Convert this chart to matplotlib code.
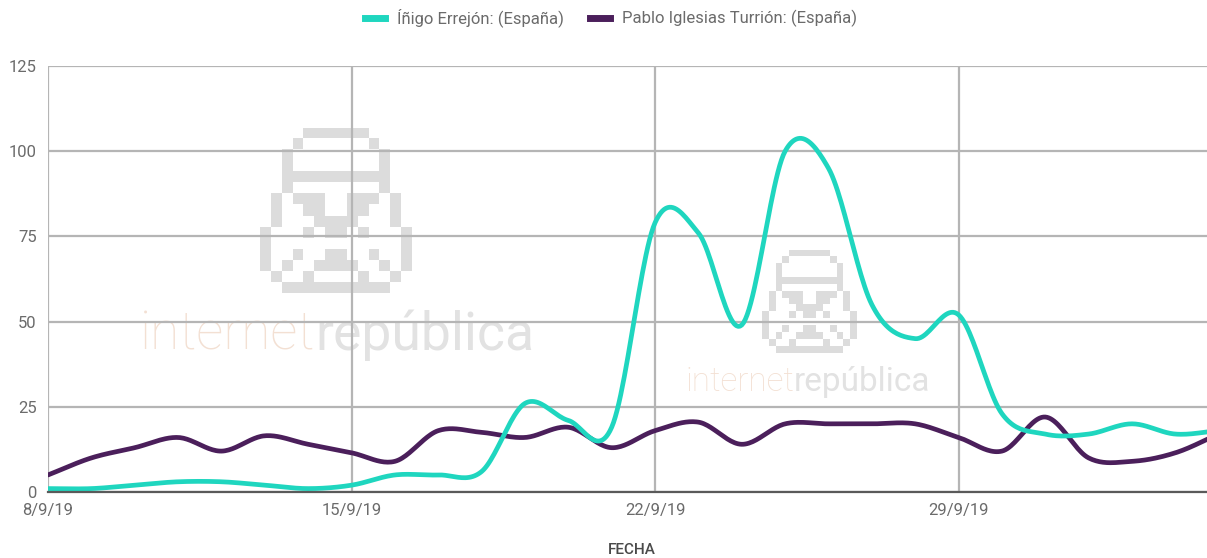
import numpy as np
from matplotlib import pyplot as plt
from matplotlib.lines import Line2D

plt.rcParams["font.family"] = ["Roboto", "DejaVu Sans"]

# datos diarios desde el 8/9/19
errejon = [1, 1, 2, 3, 3, 2, 1, 2, 5, 5, 6, 26, 21, 19, 79, 76, 49, 100,
           95, 55, 45, 52, 23, 17, 17, 20, 17, 18]
iglesias = [5, 10, 13, 16, 12, 16.5, 14, 11.5, 9, 18, 17.5, 16, 19, 13, 18,
            20.5, 14, 20, 20, 20, 20, 16, 12, 22, 10, 9, 11.5, 17]
tick_pos = [0, 7, 14, 21]
tick_labels = ["8/9/19", "15/9/19", "22/9/19", "29/9/19"]
y_ticks = [0, 25, 50, 75, 100, 125]

TEAL = "#1fd6bf"
PURPLE = "#4b1f5b"
GRID = "#b5b5b5"
TXT = "#6b6b6b"

# pixel watermark (approximate helmet)
helmet = [
    "....######....",
    "...#......#...",
    "..#........#..",
    "..#........#..",
    "..##########..",
    "..#........#..",
    ".#.###..###.#.",
    ".#..##..##..#.",
    ".#...####...#.",
    "#...#.##.#...#",
    "#............#",
    "#..#..##..#..#",
    "#.#..####..#.#",
    ".#..#....#..#.",
    "..##########..",
]


def smooth(y, n=24):
    # catmull-rom curve through the daily values
    y = np.asarray(y, dtype=float)
    m = np.zeros_like(y)
    m[1:-1] = (y[2:] - y[:-2]) / 2
    m[0] = y[1] - y[0]
    m[-1] = y[-1] - y[-2]
    xs, ys = [], []
    for i in range(len(y) - 1):
        t = np.linspace(0, 1, n, endpoint=False)
        h00 = 2 * t**3 - 3 * t**2 + 1
        h10 = t**3 - 2 * t**2 + t
        h01 = -2 * t**3 + 3 * t**2
        h11 = t**3 - t**2
        xs.append(i + t)
        ys.append(h00 * y[i] + h10 * m[i] + h01 * y[i + 1] + h11 * m[i + 1])
    xs.append([len(y) - 1])
    ys.append([y[-1]])
    return np.concatenate(xs), np.concatenate(ys)


W, H = 1207, 558
fig = plt.figure(figsize=(W / 100, H / 100), dpi=100)

# watermarks behind the plot
mask = np.array([[1.0 if c == "#" else np.nan for c in row] for row in helmet])
for (x0, y0, w, h) in [(260, 128, 152, 165), (762, 250, 95, 103)]:
    wax = fig.add_axes([x0 / W, 1 - (y0 + h) / H, w / W, h / H], zorder=0)
    wax.imshow(mask, cmap="gray", vmin=0, vmax=1.16, aspect="auto",
               interpolation="nearest")
    wax.axis("off")

for (x0, yb, fs) in [(140, 350, 38.5), (685, 391, 24)]:
    t1 = fig.text(x0 / W, 1 - yb / H, "internet", fontsize=fs,
                  fontweight="light", color="#f3e0d3", zorder=0)
    fig.canvas.draw()
    bb = t1.get_window_extent()
    fig.text(bb.x1 / W, 1 - yb / H, "república", fontsize=fs,
             fontweight="normal", color="#e2e2e2", zorder=0)

ax = fig.add_axes([48 / W, 1 - 492 / H, 1 - 48 / W, (492 - 66) / H], zorder=1)
ax.patch.set_alpha(0)

dias = np.arange(len(errejon))
xe, ye = smooth(errejon)
xi, yi = smooth(iglesias)
ax.plot(xi, yi, color=PURPLE, lw=3.4, solid_capstyle="round", zorder=3)
ax.plot(xe, ye, color=TEAL, lw=3.4, solid_capstyle="round", zorder=4)

ax.set_xlim(0, (W - 48) / 43.36)
ax.set_ylim(0, 125)
ax.set_yticks(y_ticks)
ax.set_xticks(tick_pos)
ax.set_xticklabels(tick_labels)
ax.grid(True, color=GRID, lw=1.6)
ax.set_axisbelow(True)
for s in ["top", "right", "left"]:
    ax.spines[s].set_visible(False)
ax.spines["bottom"].set_color("#5a5a5a")
ax.spines["bottom"].set_linewidth(1.6)
ax.spines["bottom"].set_zorder(5)
ax.tick_params(length=0, labelsize=12, colors=TXT, pad=8)
ax.tick_params(axis="x", pad=8)

fig.text(632 / W, 1 - 550 / H, "FECHA", fontsize=11, color="#4a4a4a",
         fontweight="medium", ha="center", va="center")

handles = [Line2D([], [], color=TEAL, lw=5),
           Line2D([], [], color=PURPLE, lw=5)]
fig.legend(handles, ["Íñigo Errejón: (España)", "Pablo Iglesias Turrión: (España)"],
           loc="center", bbox_to_anchor=(611 / W, 1 - 18 / H), ncol=2,
           frameon=False, fontsize=12, labelcolor=TXT, handlelength=1.2,
           columnspacing=1.6, handletextpad=0.7)

fig.savefig("out.png", dpi=100)
